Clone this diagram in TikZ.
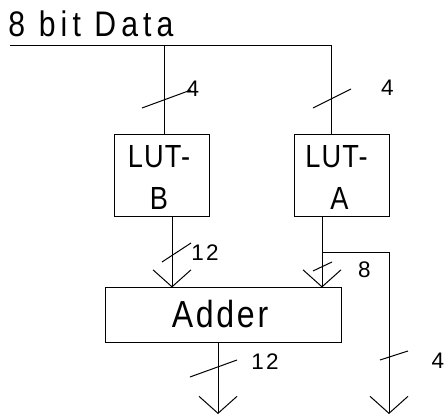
\documentclass[tikz,border=0pt]{standalone}
\usepackage{fontspec}
\usepackage{graphicx}
\setmainfont{Liberation Sans}
\usetikzlibrary{arrows.meta}
\newcommand{\cond}[2]{\scalebox{0.85}[1]{\addfontfeature{LetterSpace=#1}#2}}
\begin{document}
\begin{tikzpicture}[x=1pt,y=-1pt,line width=1pt,
  box/.style={draw,line width=1pt,inner sep=0pt},
  bits/.style={font=\fontsize{22.5}{22.5}\selectfont\addfontfeature{LetterSpace=10},inner sep=0pt,anchor=base},
  lut/.style={font=\fontsize{32}{32}\selectfont,inner sep=0pt,anchor=base},
  slash/.style={line width=1pt},
  arr/.style={-{Straight Barb[length=17pt,width=38pt,line width=1pt]}}]
\useasboundingbox (0,0) rectangle (448,414);
% title
\node[inner sep=0pt,anchor=base west,font=\fontsize{35.5}{35.5}\selectfont] (title) at (8,37) {\cond{17}{8 bit Data}};
% boxes
\node[box,minimum width=95pt,minimum height=82pt] (lutb) at (161.5,176) {};
\node[box,minimum width=95pt,minimum height=82pt] (luta) at (341.5,176) {};
\node[box,minimum width=236pt,minimum height=55pt] (adder) at (223,315.5) {};
\node[lut] (lutbt1) at (159,168) {\cond{4}{LUT-}};
\node[lut] (lutbt2) at (159,210) {\cond{4}{B}};
\node[lut] (lutat1) at (336.5,168) {\cond{4}{LUT-}};
\node[lut] (lutat2) at (339.5,210) {\cond{4}{A}};
\node[inner sep=0pt,anchor=base,font=\fontsize{37.7}{37.7}\selectfont] (addert) at (220,328) {\cond{8.5}{Adder}};
% coordinates
\coordinate (busL) at (10,46);
\coordinate (jb) at (164,46);
\coordinate (busR) at (331,46);
\coordinate (ob) at (172,0);
\coordinate (oa) at (322,0);
\coordinate (br) at (322,253);
\coordinate (brc) at (389,253);
\coordinate (out1) at (218,414);
\coordinate (out2) at (389,414);
% connectors
\draw (busL) -- (busR) -- (busR |- luta.north);
\draw (jb) -- (jb |- lutb.north);
\draw[arr] (ob |- lutb.south) -- (ob |- adder.north);
\draw[arr] (oa |- luta.south) -- (oa |- adder.north);
\draw[arr] (br) -- (brc) -- (out2);
\draw[arr] (out1 |- adder.south) -- (out1);
% bus-width slashes
\draw[slash] (142,108) -- (191,90);
\draw[slash] (313,108) -- (351,89);
\draw[slash] (162,262) -- (191,243);
\draw[slash] (313,271) -- (332,262);
\draw[slash] (190,377) -- (237,360);
\draw[slash] (380,360) -- (408,351);
% bit labels
\node[bits] (n1) at (193,97) {4};
\node[bits] (n2) at (387.5,96) {4};
\node[bits] (n3) at (205,261) {12};
\node[bits] (n4) at (364.5,278) {8};
\node[bits] (n5) at (265,370) {12};
\node[bits] (n6) at (438,369) {4};
\end{tikzpicture}
\end{document}
